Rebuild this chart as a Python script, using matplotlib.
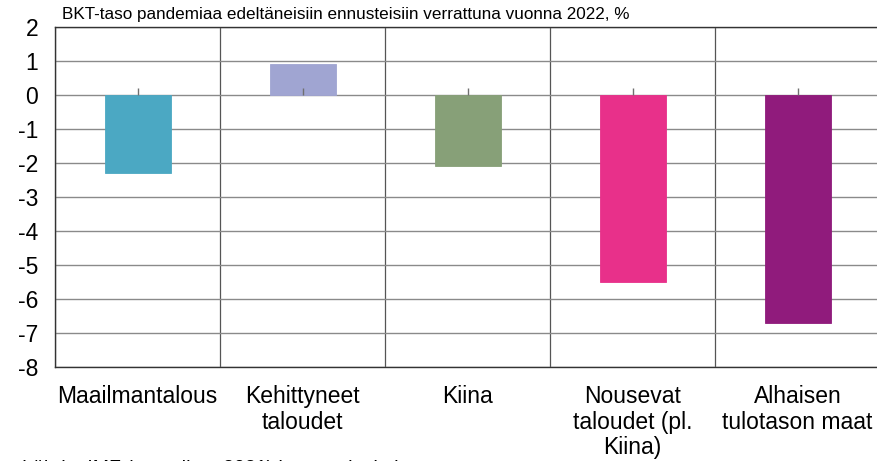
import numpy as np
import matplotlib.pyplot as plt

plt.rcParams['font.family'] = ['Liberation Sans', 'DejaVu Sans']

# data
categories = ['Maailmantalous', 'Kehittyneet\ntaloudet', 'Kiina',
              'Nousevat\ntaloudet (pl.\nKiina)', 'Alhaisen\ntulotason maat']
values = [-2.3, 0.9, -2.1, -5.5, -6.7]
colors = ['#4BA8C3', '#A0A5D2', '#87A078', '#E8308A', '#901B7C']
title = 'BKT-taso pandemiaa edeltäneisiin ennusteisiin verrattuna vuonna 2022, %'
source = 'Lähde: IMF (tammikuu 2021) ja omat laskelmat'

fig = plt.figure(figsize=(8.78, 4.61), dpi=100)
ax = fig.add_axes([55 / 878, 1 - 367 / 461, 825 / 878, 340 / 461])

x = np.arange(len(categories))
ax.bar(x, values, width=0.4, color=colors, edgecolor=colors, linewidth=0.6, zorder=3)
# small tick marks at the zero line
ax.plot(x, np.zeros(len(x)), linestyle='none', marker=2, markersize=5,
        color='#707070', markeredgewidth=1, zorder=4)

ax.set_xlim(-0.5, len(categories) - 0.5)
ax.set_ylim(-8, 2)
ax.set_yticks(np.arange(-8, 3, 1))
ax.set_yticklabels([str(v) for v in range(-8, 3)], fontsize=16.5)
ax.tick_params(axis='y', length=0, pad=12)

ax.set_xticks(x)
ax.set_xticklabels(categories, fontsize=16.5, linespacing=1.15, va='top')
ax.tick_params(axis='x', length=0, pad=13)

# category separators
ax.set_xticks(np.arange(-0.5, len(categories), 1), minor=True)
ax.tick_params(axis='x', which='minor', length=0)
ax.grid(True, axis='x', which='minor', color='#555555', linewidth=0.9, zorder=1)
ax.grid(True, axis='y', which='major', color='#8a8a8a', linewidth=1.0, zorder=1)

for s in ['left', 'bottom', 'top']:
    ax.spines[s].set_color('#333333')
    ax.spines[s].set_linewidth(1.0)
ax.spines['right'].set_visible(False)

fig.text(62 / 878, 1 - 15 / 461, title, fontsize=12.3, va='center', ha='left')
fig.text(22 / 878, -7 / 461, source, fontsize=14, va='center', ha='left')

fig.savefig('out.png', dpi=100)
